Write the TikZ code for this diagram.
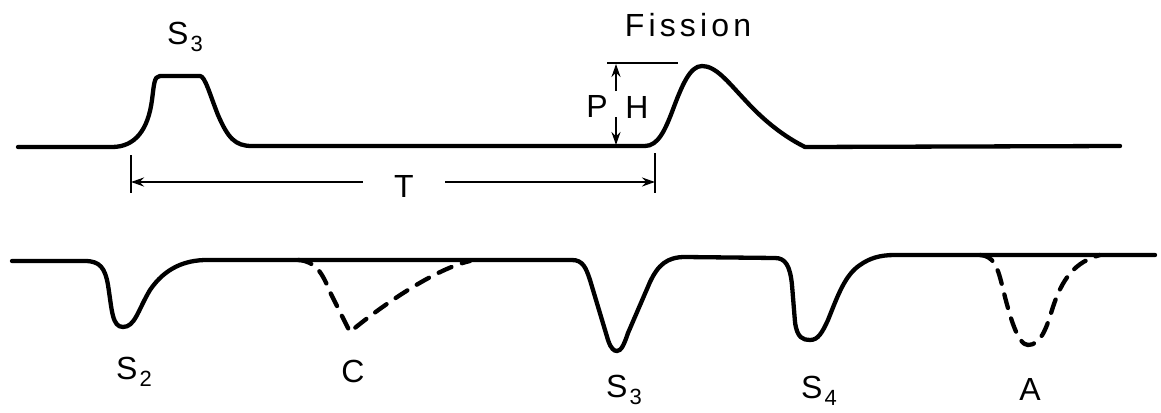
\documentclass[tikz,border=0pt]{standalone}
\usepackage{fontspec}
\setmainfont{Liberation Sans}
\newfontfamily\spacedfont[LetterSpace=13]{Liberation Sans}
\usetikzlibrary{arrows.meta}
\newcommand{\labS}[1]{S\kern2pt\raisebox{-7pt}{\fontsize{22}{22}\selectfont #1}}
\begin{document}
\begin{tikzpicture}[x=1pt,y=-1pt,
  trace/.style={line width=4.3pt, line cap=round, line join=round},
  dashtrace/.style={trace, dash pattern=on 14pt off 11pt},
  dimline/.style={line width=2.2pt},
  dimarrow/.style={dimline, -{Stealth[length=13pt,width=9pt]}},
  lab/.style={font=\fontsize{32}{32}\selectfont, inner sep=0pt}]
\useasboundingbox (0,0) rectangle (1161,412);

% ---------- top trace ----------
\draw[trace] (18,147) -- (112,147)
  .. controls (135,147) and (148,130) .. (152,100)
  .. controls (154,85) and (154,76) .. (160,76) -- (200,76)
  .. controls (205,76) and (210,95) .. (218,115)
  .. controls (228,138) and (235,146) .. (252,146) -- (645,146)
  .. controls (658,146) and (665,130) .. (672,112)
  .. controls (682,85) and (690,66) .. (702,66)
  .. controls (716,66) and (728,82) .. (745,100)
  .. controls (765,122) and (785,137) .. (805,147) -- (1120,146);

% ---------- labels top ----------
\node[lab] (s3top) at (185,37) {\labS{3}};
\node[lab, font=\fontsize{32}{32}\spacedfont] (fission) at (688,25) {Fission};
\node[lab] (P) at (597,106) {P};
\node[lab] (H) at (637,107) {H};

% ---------- PH indicator ----------
\coordinate (PHl) at (607,63);
\coordinate (PHr) at (678,63);
\coordinate (PHup) at (616,64);
\coordinate (PHupS) at (616,91);
\coordinate (PHdnS) at (616,117);
\coordinate (PHdn) at (616,145);
\draw[dimline] (PHl) -- (PHr);
\draw[dimarrow] (PHupS) -- (PHup);
\draw[dimarrow] (PHdnS) -- (PHdn);

% ---------- T dimension ----------
\coordinate (Tl) at (131,182);
\coordinate (Tr) at (655,182);
\coordinate (TlA) at (131,155);
\coordinate (TlB) at (131,193);
\coordinate (TrA) at (655,153);
\coordinate (TrB) at (655,193);
\draw[dimline] (TlA) -- (TlB);
\draw[dimline] (TrA) -- (TrB);
\node[lab, minimum width=82pt] (T) at (404,186) {T};
\draw[dimarrow] (T.west |- Tl) -- (Tl);
\draw[dimarrow] (T.east |- Tr) -- (Tr);

% ---------- bottom trace ----------
\draw[trace] (12,261) -- (85,261)
  .. controls (100,261) and (105,268) .. (108,285)
  .. controls (112,310) and (112,327) .. (123,327)
  .. controls (135,327) and (138,310) .. (150,290)
  .. controls (165,268) and (185,260) .. (207,260) -- (572,260)
  .. controls (583,260) and (586,268) .. (590,280) -- (608,340)
  .. controls (611,349) and (614,351) .. (617,351)
  .. controls (621,351) and (624,345) .. (628,333) -- (650,282)
  .. controls (658,265) and (667,257) .. (685,257) -- (775,258)
  .. controls (785,258) and (790,265) .. (792,285) -- (795,322)
  .. controls (797,338) and (803,340) .. (810,340)
  .. controls (818,340) and (822,333) .. (828,320)
  .. controls (838,295) and (845,275) .. (860,265)
  .. controls (870,258) and (880,255) .. (895,255) -- (1155,255);

% dashed C
\draw[dashtrace] (298,260) .. controls (315,261) and (322,272) .. (330,292)
  -- (350,332) .. controls (370,315) and (430,270) .. (470,261);
% dashed A
\draw[dashtrace] (980,255) .. controls (993,256) and (997,265) .. (1002,285)
  .. controls (1010,318) and (1018,345) .. (1028,345)
  .. controls (1040,345) and (1046,330) .. (1052,310)
  .. controls (1062,278) and (1075,262) .. (1100,255);

% ---------- labels bottom ----------
\node[lab] (s2) at (134,372) {\labS{2}};
\node[lab] (c) at (353,371) {C};
\node[lab] (s3bot) at (624,390) {\labS{3}};
\node[lab] (s4) at (819,391) {\labS{4}};
\node[lab] (a) at (1030,389) {A};
\end{tikzpicture}
\end{document}
